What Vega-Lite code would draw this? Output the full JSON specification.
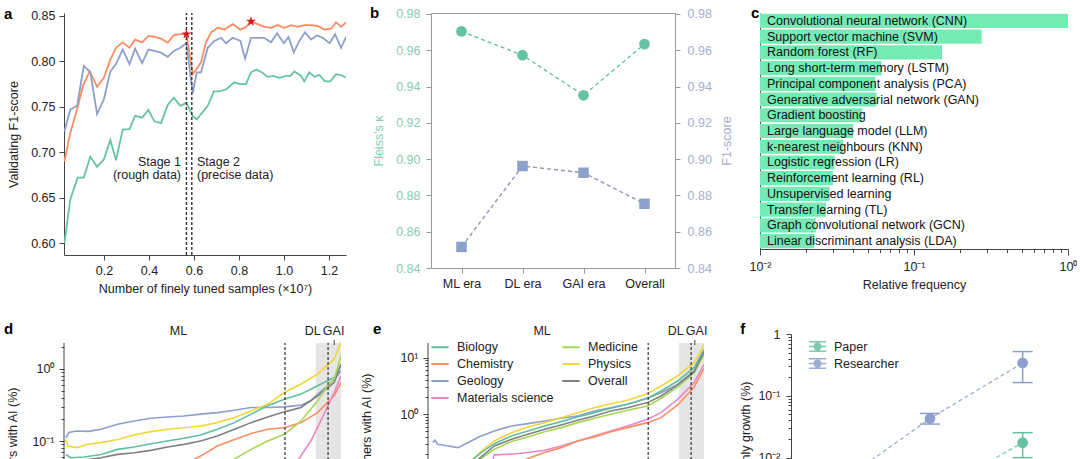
{
  "$schema": "https://vega.github.io/schema/vega-lite/v6.json",
  "padding": {"left": 3, "top": 5, "right": 0, "bottom": 0},
  "spacing": 321,
  "bounds": "flush",
  "resolve": {"scale": {"color": "independent"}, "legend": {"color": "independent"}},
  "datasets": {
    "a_runs": [
      {"model": "Model 1", "samples": 0.024, "f1": 0.600}, {"model": "Model 1", "samples": 0.050, "f1": 0.648},
      {"model": "Model 1", "samples": 0.083, "f1": 0.672}, {"model": "Model 1", "samples": 0.110, "f1": 0.672},
      {"model": "Model 1", "samples": 0.139, "f1": 0.695}, {"model": "Model 1", "samples": 0.169, "f1": 0.684},
      {"model": "Model 1", "samples": 0.199, "f1": 0.692}, {"model": "Model 1", "samples": 0.228, "f1": 0.7135},
      {"model": "Model 1", "samples": 0.253, "f1": 0.691}, {"model": "Model 1", "samples": 0.283, "f1": 0.725},
      {"model": "Model 1", "samples": 0.313, "f1": 0.7255}, {"model": "Model 1", "samples": 0.338, "f1": 0.740},
      {"model": "Model 1", "samples": 0.369, "f1": 0.738}, {"model": "Model 1", "samples": 0.397, "f1": 0.7465},
      {"model": "Model 1", "samples": 0.424, "f1": 0.734}, {"model": "Model 1", "samples": 0.453, "f1": 0.732},
      {"model": "Model 1", "samples": 0.483, "f1": 0.752}, {"model": "Model 1", "samples": 0.510, "f1": 0.760},
      {"model": "Model 1", "samples": 0.539, "f1": 0.751}, {"model": "Model 1", "samples": 0.566, "f1": 0.7545},
      {"model": "Model 1", "samples": 0.594, "f1": 0.740}, {"model": "Model 1", "samples": 0.612, "f1": 0.736},
      {"model": "Model 1", "samples": 0.631, "f1": 0.742}, {"model": "Model 1", "samples": 0.661, "f1": 0.751},
      {"model": "Model 1", "samples": 0.688, "f1": 0.767}, {"model": "Model 1", "samples": 0.712, "f1": 0.767},
      {"model": "Model 1", "samples": 0.742, "f1": 0.769}, {"model": "Model 1", "samples": 0.779, "f1": 0.777},
      {"model": "Model 1", "samples": 0.806, "f1": 0.775}, {"model": "Model 1", "samples": 0.831, "f1": 0.775},
      {"model": "Model 1", "samples": 0.853, "f1": 0.788}, {"model": "Model 1", "samples": 0.876, "f1": 0.791},
      {"model": "Model 1", "samples": 0.901, "f1": 0.788}, {"model": "Model 1", "samples": 0.927, "f1": 0.783},
      {"model": "Model 1", "samples": 0.954, "f1": 0.784}, {"model": "Model 1", "samples": 0.979, "f1": 0.782},
      {"model": "Model 1", "samples": 1.009, "f1": 0.784}, {"model": "Model 1", "samples": 1.028, "f1": 0.784},
      {"model": "Model 1", "samples": 1.046, "f1": 0.789}, {"model": "Model 1", "samples": 1.076, "f1": 0.784},
      {"model": "Model 1", "samples": 1.090, "f1": 0.778}, {"model": "Model 1", "samples": 1.112, "f1": 0.788},
      {"model": "Model 1", "samples": 1.135, "f1": 0.783}, {"model": "Model 1", "samples": 1.157, "f1": 0.785},
      {"model": "Model 1", "samples": 1.182, "f1": 0.778}, {"model": "Model 1", "samples": 1.206, "f1": 0.778},
      {"model": "Model 1", "samples": 1.231, "f1": 0.786}, {"model": "Model 1", "samples": 1.253, "f1": 0.785},
      {"model": "Model 1", "samples": 1.276, "f1": 0.782},
      {"model": "Model 2", "samples": 0.024, "f1": 0.690}, {"model": "Model 2", "samples": 0.050, "f1": 0.7215},
      {"model": "Model 2", "samples": 0.080, "f1": 0.747}, {"model": "Model 2", "samples": 0.106, "f1": 0.773},
      {"model": "Model 2", "samples": 0.136, "f1": 0.789}, {"model": "Model 2", "samples": 0.169, "f1": 0.772},
      {"model": "Model 2", "samples": 0.199, "f1": 0.782}, {"model": "Model 2", "samples": 0.228, "f1": 0.802},
      {"model": "Model 2", "samples": 0.253, "f1": 0.815}, {"model": "Model 2", "samples": 0.283, "f1": 0.821},
      {"model": "Model 2", "samples": 0.313, "f1": 0.815}, {"model": "Model 2", "samples": 0.338, "f1": 0.824},
      {"model": "Model 2", "samples": 0.369, "f1": 0.821}, {"model": "Model 2", "samples": 0.397, "f1": 0.828},
      {"model": "Model 2", "samples": 0.424, "f1": 0.827}, {"model": "Model 2", "samples": 0.453, "f1": 0.825},
      {"model": "Model 2", "samples": 0.483, "f1": 0.8206}, {"model": "Model 2", "samples": 0.510, "f1": 0.829},
      {"model": "Model 2", "samples": 0.539, "f1": 0.830}, {"model": "Model 2", "samples": 0.566, "f1": 0.830},
      {"model": "Model 2", "samples": 0.594, "f1": 0.786}, {"model": "Model 2", "samples": 0.612, "f1": 0.792},
      {"model": "Model 2", "samples": 0.631, "f1": 0.799}, {"model": "Model 2", "samples": 0.653, "f1": 0.821},
      {"model": "Model 2", "samples": 0.676, "f1": 0.832}, {"model": "Model 2", "samples": 0.705, "f1": 0.837},
      {"model": "Model 2", "samples": 0.735, "f1": 0.835}, {"model": "Model 2", "samples": 0.772, "f1": 0.841},
      {"model": "Model 2", "samples": 0.806, "f1": 0.835}, {"model": "Model 2", "samples": 0.831, "f1": 0.838},
      {"model": "Model 2", "samples": 0.853, "f1": 0.844}, {"model": "Model 2", "samples": 0.883, "f1": 0.841},
      {"model": "Model 2", "samples": 0.912, "f1": 0.838}, {"model": "Model 2", "samples": 0.942, "f1": 0.837},
      {"model": "Model 2", "samples": 0.972, "f1": 0.840}, {"model": "Model 2", "samples": 1.001, "f1": 0.837},
      {"model": "Model 2", "samples": 1.031, "f1": 0.840}, {"model": "Model 2", "samples": 1.061, "f1": 0.838},
      {"model": "Model 2", "samples": 1.090, "f1": 0.840}, {"model": "Model 2", "samples": 1.120, "f1": 0.840},
      {"model": "Model 2", "samples": 1.150, "f1": 0.839}, {"model": "Model 2", "samples": 1.179, "f1": 0.835},
      {"model": "Model 2", "samples": 1.209, "f1": 0.836}, {"model": "Model 2", "samples": 1.231, "f1": 0.843},
      {"model": "Model 2", "samples": 1.253, "f1": 0.838}, {"model": "Model 2", "samples": 1.276, "f1": 0.843},
      {"model": "Model 3", "samples": 0.024, "f1": 0.723}, {"model": "Model 3", "samples": 0.050, "f1": 0.747},
      {"model": "Model 3", "samples": 0.080, "f1": 0.751}, {"model": "Model 3", "samples": 0.110, "f1": 0.795},
      {"model": "Model 3", "samples": 0.139, "f1": 0.788}, {"model": "Model 3", "samples": 0.169, "f1": 0.742},
      {"model": "Model 3", "samples": 0.199, "f1": 0.758}, {"model": "Model 3", "samples": 0.228, "f1": 0.789},
      {"model": "Model 3", "samples": 0.253, "f1": 0.797}, {"model": "Model 3", "samples": 0.283, "f1": 0.813},
      {"model": "Model 3", "samples": 0.313, "f1": 0.797}, {"model": "Model 3", "samples": 0.338, "f1": 0.814},
      {"model": "Model 3", "samples": 0.369, "f1": 0.798}, {"model": "Model 3", "samples": 0.397, "f1": 0.813},
      {"model": "Model 3", "samples": 0.424, "f1": 0.8115}, {"model": "Model 3", "samples": 0.453, "f1": 0.8096},
      {"model": "Model 3", "samples": 0.483, "f1": 0.805}, {"model": "Model 3", "samples": 0.510, "f1": 0.8115},
      {"model": "Model 3", "samples": 0.539, "f1": 0.815}, {"model": "Model 3", "samples": 0.566, "f1": 0.820},
      {"model": "Model 3", "samples": 0.594, "f1": 0.765}, {"model": "Model 3", "samples": 0.612, "f1": 0.788},
      {"model": "Model 3", "samples": 0.631, "f1": 0.788}, {"model": "Model 3", "samples": 0.661, "f1": 0.815},
      {"model": "Model 3", "samples": 0.690, "f1": 0.8225}, {"model": "Model 3", "samples": 0.720, "f1": 0.826},
      {"model": "Model 3", "samples": 0.742, "f1": 0.820}, {"model": "Model 3", "samples": 0.772, "f1": 0.826},
      {"model": "Model 3", "samples": 0.806, "f1": 0.8225}, {"model": "Model 3", "samples": 0.827, "f1": 0.803},
      {"model": "Model 3", "samples": 0.853, "f1": 0.826}, {"model": "Model 3", "samples": 0.883, "f1": 0.826},
      {"model": "Model 3", "samples": 0.912, "f1": 0.826}, {"model": "Model 3", "samples": 0.942, "f1": 0.821},
      {"model": "Model 3", "samples": 0.969, "f1": 0.831}, {"model": "Model 3", "samples": 0.999, "f1": 0.820},
      {"model": "Model 3", "samples": 1.020, "f1": 0.827}, {"model": "Model 3", "samples": 1.043, "f1": 0.810},
      {"model": "Model 3", "samples": 1.068, "f1": 0.8225}, {"model": "Model 3", "samples": 1.093, "f1": 0.832},
      {"model": "Model 3", "samples": 1.120, "f1": 0.824}, {"model": "Model 3", "samples": 1.146, "f1": 0.8285},
      {"model": "Model 3", "samples": 1.172, "f1": 0.826}, {"model": "Model 3", "samples": 1.202, "f1": 0.820},
      {"model": "Model 3", "samples": 1.227, "f1": 0.830}, {"model": "Model 3", "samples": 1.253, "f1": 0.815},
      {"model": "Model 3", "samples": 1.279, "f1": 0.8285}
    ],
    "b_points": [
      {"era": "ML era", "kappa": 0.9704, "f1": 0.8516},
      {"era": "DL era", "kappa": 0.9573, "f1": 0.8962},
      {"era": "GAI era", "kappa": 0.9352, "f1": 0.8925},
      {"era": "Overall", "kappa": 0.9634, "f1": 0.8754}
    ],
    "c_methods": [
      {"method": "Convolutional neural network (CNN)", "freq": 1.0},
      {"method": "Support vector machine (SVM)", "freq": 0.275},
      {"method": "Random forest (RF)", "freq": 0.152},
      {"method": "Long short-term memory (LSTM)", "freq": 0.0615},
      {"method": "Principal component analysis (PCA)", "freq": 0.0562},
      {"method": "Generative adversarial network (GAN)", "freq": 0.0571},
      {"method": "Gradient boosting", "freq": 0.0461},
      {"method": "Large language model (LLM)", "freq": 0.0403},
      {"method": "k-nearest neighbours (KNN)", "freq": 0.0346},
      {"method": "Logistic regression (LR)", "freq": 0.0305},
      {"method": "Reinforcement learning (RL)", "freq": 0.0298},
      {"method": "Unsupervised learning", "freq": 0.0283},
      {"method": "Transfer learning (TL)", "freq": 0.0268},
      {"method": "Graph convolutional network (GCN)", "freq": 0.0230},
      {"method": "Linear discriminant analysis (LDA)", "freq": 0.0225}
    ],
    "d_papers": [
      {"series": "Geology", "year": 1980.3, "share": 0.111}, {"series": "Geology", "year": 1980.8, "share": 0.131},
      {"series": "Geology", "year": 1982.0, "share": 0.138}, {"series": "Geology", "year": 1984.0, "share": 0.136},
      {"series": "Geology", "year": 1986.0, "share": 0.146}, {"series": "Geology", "year": 1988.7, "share": 0.171},
      {"series": "Geology", "year": 1991.4, "share": 0.190}, {"series": "Geology", "year": 1994.1, "share": 0.207},
      {"series": "Geology", "year": 1996.8, "share": 0.216}, {"series": "Geology", "year": 1999.5, "share": 0.223},
      {"series": "Geology", "year": 2002.2, "share": 0.236}, {"series": "Geology", "year": 2004.9, "share": 0.248},
      {"series": "Geology", "year": 2007.7, "share": 0.268}, {"series": "Geology", "year": 2010.4, "share": 0.292},
      {"series": "Geology", "year": 2013.1, "share": 0.292}, {"series": "Geology", "year": 2015.8, "share": 0.298},
      {"series": "Geology", "year": 2018.5, "share": 0.315}, {"series": "Geology", "year": 2020.1, "share": 0.361},
      {"series": "Geology", "year": 2021.2, "share": 0.448}, {"series": "Geology", "year": 2022.8, "share": 0.585},
      {"series": "Geology", "year": 2023.9, "share": 0.725}, {"series": "Geology", "year": 2025.0, "share": 0.948},
      {"series": "Physics", "year": 1980.3, "share": 0.105}, {"series": "Physics", "year": 1980.6, "share": 0.085},
      {"series": "Physics", "year": 1982.2, "share": 0.081}, {"series": "Physics", "year": 1983.8, "share": 0.090},
      {"series": "Physics", "year": 1986.0, "share": 0.095}, {"series": "Physics", "year": 1988.7, "share": 0.105},
      {"series": "Physics", "year": 1991.4, "share": 0.121}, {"series": "Physics", "year": 1994.1, "share": 0.135},
      {"series": "Physics", "year": 1996.8, "share": 0.146}, {"series": "Physics", "year": 1999.5, "share": 0.153},
      {"series": "Physics", "year": 2002.2, "share": 0.162}, {"series": "Physics", "year": 2004.9, "share": 0.180},
      {"series": "Physics", "year": 2007.7, "share": 0.212}, {"series": "Physics", "year": 2010.4, "share": 0.262},
      {"series": "Physics", "year": 2013.1, "share": 0.325}, {"series": "Physics", "year": 2015.8, "share": 0.472},
      {"series": "Physics", "year": 2018.5, "share": 0.618}, {"series": "Physics", "year": 2021.2, "share": 0.851},
      {"series": "Physics", "year": 2023.9, "share": 1.38}, {"series": "Physics", "year": 2025.0, "share": 2.36},
      {"series": "Biology", "year": 1980.3, "share": 0.065}, {"series": "Biology", "year": 1981.1, "share": 0.0585},
      {"series": "Biology", "year": 1983.3, "share": 0.060}, {"series": "Biology", "year": 1986.0, "share": 0.065},
      {"series": "Biology", "year": 1988.7, "share": 0.0765}, {"series": "Biology", "year": 1991.4, "share": 0.0824},
      {"series": "Biology", "year": 1994.1, "share": 0.0918}, {"series": "Biology", "year": 1996.8, "share": 0.100},
      {"series": "Biology", "year": 1999.5, "share": 0.109}, {"series": "Biology", "year": 2002.2, "share": 0.121},
      {"series": "Biology", "year": 2004.9, "share": 0.146}, {"series": "Biology", "year": 2007.7, "share": 0.180},
      {"series": "Biology", "year": 2010.4, "share": 0.236}, {"series": "Biology", "year": 2013.1, "share": 0.308},
      {"series": "Biology", "year": 2015.8, "share": 0.381}, {"series": "Biology", "year": 2018.5, "share": 0.448},
      {"series": "Biology", "year": 2021.2, "share": 0.585}, {"series": "Biology", "year": 2023.9, "share": 0.765},
      {"series": "Biology", "year": 2025.0, "share": 1.11},
      {"series": "Overall", "year": 1980.3, "share": 0.047}, {"series": "Overall", "year": 1983.3, "share": 0.0543},
      {"series": "Overall", "year": 1986.0, "share": 0.0585}, {"series": "Overall", "year": 1988.7, "share": 0.0652},
      {"series": "Overall", "year": 1991.4, "share": 0.0687}, {"series": "Overall", "year": 1994.1, "share": 0.0741},
      {"series": "Overall", "year": 1996.8, "share": 0.0824}, {"series": "Overall", "year": 1999.5, "share": 0.0898},
      {"series": "Overall", "year": 2002.2, "share": 0.100}, {"series": "Overall", "year": 2004.9, "share": 0.117},
      {"series": "Overall", "year": 2007.7, "share": 0.146}, {"series": "Overall", "year": 2010.4, "share": 0.180},
      {"series": "Overall", "year": 2013.1, "share": 0.216}, {"series": "Overall", "year": 2015.8, "share": 0.254},
      {"series": "Overall", "year": 2018.5, "share": 0.292}, {"series": "Overall", "year": 2021.2, "share": 0.425},
      {"series": "Overall", "year": 2023.9, "share": 0.652}, {"series": "Overall", "year": 2025.0, "share": 1.17},
      {"series": "Chemistry", "year": 1990.0, "share": 0.018}, {"series": "Chemistry", "year": 1994.1, "share": 0.0248},
      {"series": "Chemistry", "year": 1996.8, "share": 0.0343}, {"series": "Chemistry", "year": 2000.6, "share": 0.0526},
      {"series": "Chemistry", "year": 2002.2, "share": 0.0618}, {"series": "Chemistry", "year": 2004.9, "share": 0.0851},
      {"series": "Chemistry", "year": 2007.7, "share": 0.105}, {"series": "Chemistry", "year": 2010.4, "share": 0.127},
      {"series": "Chemistry", "year": 2013.1, "share": 0.146}, {"series": "Chemistry", "year": 2015.8, "share": 0.153},
      {"series": "Chemistry", "year": 2018.5, "share": 0.180}, {"series": "Chemistry", "year": 2021.2, "share": 0.248},
      {"series": "Chemistry", "year": 2022.8, "share": 0.343}, {"series": "Chemistry", "year": 2023.9, "share": 0.425},
      {"series": "Chemistry", "year": 2025.0, "share": 0.652},
      {"series": "Medicine", "year": 1995.0, "share": 0.015}, {"series": "Medicine", "year": 2002.2, "share": 0.0248},
      {"series": "Medicine", "year": 2007.1, "share": 0.0526}, {"series": "Medicine", "year": 2010.4, "share": 0.0765},
      {"series": "Medicine", "year": 2013.1, "share": 0.100}, {"series": "Medicine", "year": 2015.8, "share": 0.124},
      {"series": "Medicine", "year": 2018.5, "share": 0.190}, {"series": "Medicine", "year": 2021.2, "share": 0.361},
      {"series": "Medicine", "year": 2022.8, "share": 0.585}, {"series": "Medicine", "year": 2023.9, "share": 0.725},
      {"series": "Medicine", "year": 2025.0, "share": 1.53},
      {"series": "Materials science", "year": 2005.0, "share": 0.008}, {"series": "Materials science", "year": 2013.1, "share": 0.0162},
      {"series": "Materials science", "year": 2017.9, "share": 0.0526}, {"series": "Materials science", "year": 2020.1, "share": 0.100},
      {"series": "Materials science", "year": 2021.7, "share": 0.190}, {"series": "Materials science", "year": 2023.4, "share": 0.381},
      {"series": "Materials science", "year": 2023.9, "share": 0.472}, {"series": "Materials science", "year": 2025.0, "share": 0.807}
    ],
    "e_researchers": [
      {"series": "Geology", "year": 1980.8, "share": 0.316}, {"series": "Geology", "year": 1981.1, "share": 0.350},
      {"series": "Geology", "year": 1981.6, "share": 0.296}, {"series": "Geology", "year": 1983.3, "share": 0.276},
      {"series": "Geology", "year": 1984.9, "share": 0.258}, {"series": "Geology", "year": 1986.0, "share": 0.296},
      {"series": "Geology", "year": 1988.1, "share": 0.388}, {"series": "Geology", "year": 1990.8, "share": 0.508},
      {"series": "Geology", "year": 1993.6, "share": 0.622}, {"series": "Geology", "year": 1996.3, "share": 0.684},
      {"series": "Geology", "year": 1999.0, "share": 0.762}, {"series": "Geology", "year": 2001.7, "share": 0.850},
      {"series": "Geology", "year": 2004.4, "share": 0.935}, {"series": "Geology", "year": 2007.1, "share": 1.146},
      {"series": "Geology", "year": 2009.8, "share": 1.31}, {"series": "Geology", "year": 2012.5, "share": 1.50},
      {"series": "Geology", "year": 2015.8, "share": 1.92}, {"series": "Geology", "year": 2018.0, "share": 2.41},
      {"series": "Geology", "year": 2020.7, "share": 3.38}, {"series": "Geology", "year": 2023.4, "share": 5.82},
      {"series": "Geology", "year": 2025.0, "share": 11.5},
      {"series": "Physics", "year": 1985.0, "share": 0.100}, {"series": "Physics", "year": 1987.0, "share": 0.150},
      {"series": "Physics", "year": 1988.7, "share": 0.225}, {"series": "Physics", "year": 1990.8, "share": 0.338},
      {"series": "Physics", "year": 1993.6, "share": 0.474}, {"series": "Physics", "year": 1996.3, "share": 0.597},
      {"series": "Physics", "year": 1999.0, "share": 0.713}, {"series": "Physics", "year": 2001.7, "share": 0.873},
      {"series": "Physics", "year": 2004.4, "share": 1.07}, {"series": "Physics", "year": 2007.1, "share": 1.31},
      {"series": "Physics", "year": 2009.8, "share": 1.54}, {"series": "Physics", "year": 2012.5, "share": 1.77},
      {"series": "Physics", "year": 2015.8, "share": 2.32}, {"series": "Physics", "year": 2018.0, "share": 3.16},
      {"series": "Physics", "year": 2020.7, "share": 4.75}, {"series": "Physics", "year": 2023.4, "share": 8.16},
      {"series": "Physics", "year": 2025.0, "share": 17.2},
      {"series": "Biology", "year": 1985.0, "share": 0.100}, {"series": "Biology", "year": 1987.0, "share": 0.150},
      {"series": "Biology", "year": 1988.7, "share": 0.211}, {"series": "Biology", "year": 1990.8, "share": 0.303},
      {"series": "Biology", "year": 1993.6, "share": 0.415}, {"series": "Biology", "year": 1996.3, "share": 0.508},
      {"series": "Biology", "year": 1999.0, "share": 0.622}, {"series": "Biology", "year": 2001.7, "share": 0.743},
      {"series": "Biology", "year": 2004.4, "share": 0.897}, {"series": "Biology", "year": 2007.1, "share": 1.07},
      {"series": "Biology", "year": 2009.8, "share": 1.28}, {"series": "Biology", "year": 2012.5, "share": 1.50},
      {"series": "Biology", "year": 2015.8, "share": 1.92}, {"series": "Biology", "year": 2018.0, "share": 2.58},
      {"series": "Biology", "year": 2020.7, "share": 3.87}, {"series": "Biology", "year": 2023.4, "share": 6.67},
      {"series": "Biology", "year": 2025.0, "share": 14.0},
      {"series": "Medicine", "year": 1986.0, "share": 0.100}, {"series": "Medicine", "year": 1988.1, "share": 0.150},
      {"series": "Medicine", "year": 1990.8, "share": 0.241}, {"series": "Medicine", "year": 1993.6, "share": 0.330},
      {"series": "Medicine", "year": 1996.3, "share": 0.398}, {"series": "Medicine", "year": 1999.0, "share": 0.494},
      {"series": "Medicine", "year": 2001.7, "share": 0.582}, {"series": "Medicine", "year": 2004.4, "share": 0.713},
      {"series": "Medicine", "year": 2007.1, "share": 0.850}, {"series": "Medicine", "year": 2009.8, "share": 1.00},
      {"series": "Medicine", "year": 2012.5, "share": 1.18}, {"series": "Medicine", "year": 2015.8, "share": 1.40},
      {"series": "Medicine", "year": 2018.0, "share": 1.92}, {"series": "Medicine", "year": 2020.7, "share": 3.03},
      {"series": "Medicine", "year": 2023.4, "share": 5.44}, {"series": "Medicine", "year": 2025.0, "share": 11.5},
      {"series": "Overall", "year": 1986.0, "share": 0.100}, {"series": "Overall", "year": 1987.9, "share": 0.150},
      {"series": "Overall", "year": 1990.8, "share": 0.276}, {"series": "Overall", "year": 1993.6, "share": 0.362},
      {"series": "Overall", "year": 1996.3, "share": 0.443}, {"series": "Overall", "year": 1999.0, "share": 0.543},
      {"series": "Overall", "year": 2001.7, "share": 0.648}, {"series": "Overall", "year": 2004.4, "share": 0.784},
      {"series": "Overall", "year": 2007.1, "share": 0.935}, {"series": "Overall", "year": 2009.8, "share": 1.146},
      {"series": "Overall", "year": 2012.5, "share": 1.31}, {"series": "Overall", "year": 2015.8, "share": 1.61},
      {"series": "Overall", "year": 2018.0, "share": 2.11}, {"series": "Overall", "year": 2020.7, "share": 3.30},
      {"series": "Overall", "year": 2023.4, "share": 5.66}, {"series": "Overall", "year": 2025.0, "share": 12.8},
      {"series": "Materials science", "year": 1990.3, "share": 0.120}, {"series": "Materials science", "year": 1990.8, "share": 0.192},
      {"series": "Materials science", "year": 1993.6, "share": 0.197}, {"series": "Materials science", "year": 1996.3, "share": 0.211},
      {"series": "Materials science", "year": 1999.0, "share": 0.232}, {"series": "Materials science", "year": 2001.7, "share": 0.276},
      {"series": "Materials science", "year": 2004.4, "share": 0.338}, {"series": "Materials science", "year": 2007.1, "share": 0.415},
      {"series": "Materials science", "year": 2009.8, "share": 0.508}, {"series": "Materials science", "year": 2012.5, "share": 0.622},
      {"series": "Materials science", "year": 2015.8, "share": 0.816}, {"series": "Materials science", "year": 2018.0, "share": 1.07},
      {"series": "Materials science", "year": 2020.7, "share": 1.84}, {"series": "Materials science", "year": 2023.4, "share": 3.62},
      {"series": "Materials science", "year": 2025.0, "share": 7.63},
      {"series": "Chemistry", "year": 1993.0, "share": 0.100}, {"series": "Chemistry", "year": 1995.2, "share": 0.150},
      {"series": "Chemistry", "year": 1999.0, "share": 0.211}, {"series": "Chemistry", "year": 2001.7, "share": 0.258},
      {"series": "Chemistry", "year": 2004.4, "share": 0.338}, {"series": "Chemistry", "year": 2007.1, "share": 0.398},
      {"series": "Chemistry", "year": 2009.8, "share": 0.494}, {"series": "Chemistry", "year": 2012.5, "share": 0.582},
      {"series": "Chemistry", "year": 2015.8, "share": 0.713}, {"series": "Chemistry", "year": 2018.0, "share": 0.873},
      {"series": "Chemistry", "year": 2020.7, "share": 1.46}, {"series": "Chemistry", "year": 2023.4, "share": 3.03},
      {"series": "Chemistry", "year": 2025.0, "share": 6.49}
    ],
    "f_growth": [
      {"kind": "Researcher", "era": "ML era", "growth": 0.0037, "lo": 0.0030, "hi": 0.0045},
      {"kind": "Researcher", "era": "DL era", "growth": 0.043, "lo": 0.035, "hi": 0.052},
      {"kind": "Researcher", "era": "GAI era", "growth": 0.34, "lo": 0.164, "hi": 0.52},
      {"kind": "Paper", "era": "ML era", "growth": 0.0007, "lo": 0.0005, "hi": 0.0009},
      {"kind": "Paper", "era": "DL era", "growth": 0.0025, "lo": 0.0019, "hi": 0.0031},
      {"kind": "Paper", "era": "GAI era", "growth": 0.0175, "lo": 0.0100, "hi": 0.0254}
    ]
  },
  "vconcat": [
    {
      "spacing": 85,
      "bounds": "flush",
      "resolve": {"scale": {"color": "independent"}, "legend": {"color": "independent"}},
      "hconcat": [
        {
          "width": 282,
          "height": 242,
          "layer": [
            {
              "data": {"name": "a_runs"},
              "mark": {"type": "line", "strokeWidth": 1.8, "clip": true},
              "encoding": {
                "x": {
                  "field": "samples", "type": "quantitative",
                  "scale": {"domain": [0.022, 1.2753], "nice": false, "zero": false},
                  "axis": {"values": [0.2, 0.4, 0.6, 0.8, 1.0, 1.2], "format": ".1f", "labelFlush": false, "labelPadding": 4, "titlePadding": 6, "title": "Number of finely tuned samples (×10⁷)"}
                },
                "y": {
                  "field": "f1", "type": "quantitative",
                  "scale": {"domain": [0.5868, 0.8533], "nice": false, "zero": false},
                  "axis": {"values": [0.6, 0.65, 0.7, 0.75, 0.8, 0.85], "format": ".2f", "labelPadding": 4, "titlePadding": 10, "title": "Validating F1-score"}
                },
                "color": {"field": "model", "type": "nominal", "scale": {"domain": ["Model 1", "Model 2", "Model 3"], "range": ["#66c2a5", "#fc8d62", "#8da0cb"]}, "legend": null}
              }
            },
            {
              "data": {"values": [{"samples": 0.566, "f1": 0.5868, "top": 0.8533}, {"samples": 0.590, "f1": 0.5868, "top": 0.8533}]},
              "mark": {"type": "rule", "strokeDash": [3, 2], "color": "#333333", "strokeWidth": 1.4},
              "encoding": {"x": {"field": "samples", "type": "quantitative"}, "y": {"field": "f1", "type": "quantitative"}, "y2": {"field": "top"}}
            },
            {
              "data": {"values": [{"samples": 0.566, "f1": 0.830}, {"samples": 0.853, "f1": 0.844}]},
              "mark": {"type": "point", "filled": true, "opacity": 1, "size": 110, "color": "#d7191c", "shape": "M0,-1L0.2245,-0.309L0.9511,-0.309L0.3633,0.118L0.5878,0.809L0,0.382L-0.5878,0.809L-0.3633,0.118L-0.9511,-0.309L-0.2245,-0.309Z"},
              "encoding": {"x": {"field": "samples", "type": "quantitative"}, "y": {"field": "f1", "type": "quantitative"}}
            },
            {
              "data": {"values": [{"samples": 0.542, "f1": 0.6895, "note": "Stage 1"}, {"samples": 0.542, "f1": 0.6745, "note": "(rough data)"}]},
              "mark": {"type": "text", "align": "right", "baseline": "middle", "fontSize": 12.5},
              "encoding": {"x": {"field": "samples", "type": "quantitative"}, "y": {"field": "f1", "type": "quantitative"}, "text": {"field": "note", "type": "nominal"}}
            },
            {
              "data": {"values": [{"samples": 0.613, "f1": 0.6895, "note": "Stage 2"}, {"samples": 0.613, "f1": 0.6745, "note": "(precise data)"}]},
              "mark": {"type": "text", "align": "left", "baseline": "middle", "fontSize": 12.5},
              "encoding": {"x": {"field": "samples", "type": "quantitative"}, "y": {"field": "f1", "type": "quantitative"}, "text": {"field": "note", "type": "nominal"}}
            },
            {
              "data": {"values": [{"panel": "a", "samples": -0.2447, "f1": 0.8467}, {"panel": "b", "samples": 1.382, "f1": 0.8478}, {"panel": "c", "samples": 3.075, "f1": 0.8478}]},
              "mark": {"type": "text", "align": "left", "baseline": "alphabetic", "fontSize": 15, "fontWeight": "bold", "color": "#000000"},
              "encoding": {"x": {"field": "samples", "type": "quantitative"}, "y": {"field": "f1", "type": "quantitative"}, "text": {"field": "panel", "type": "nominal"}}
            }
          ]
        },
        {
          "width": 244,
          "height": 255,
          "view": {"stroke": "#999999", "strokeWidth": 1},
          "data": {"name": "b_points"},
          "encoding": {
            "x": {
              "field": "era", "type": "ordinal", "sort": ["ML era", "DL era", "GAI era", "Overall"],
              "scale": {"type": "point", "padding": 0.5},
              "axis": {"title": null, "labelAngle": 0, "domain": false, "tickColor": "#999999", "labelPadding": 4}
            }
          },
          "layer": [
            {
              "layer": [
                {
                  "mark": {"type": "line", "strokeDash": [4, 3], "strokeWidth": 1.4, "color": "#66c2a5"},
                  "encoding": {
                    "y": {
                      "field": "kappa", "type": "quantitative",
                      "scale": {"domain": [0.84, 0.98055], "nice": false, "zero": false},
                      "axis": {"values": [0.84, 0.86, 0.88, 0.9, 0.92, 0.94, 0.96, 0.98], "tickCount": 8, "format": ".2f", "labelOverlap": false, "domain": false, "tickColor": "#999999", "labelColor": "#86cdb2", "titleColor": "#86cdb2", "labelPadding": 6, "titlePadding": 10, "title": "Fleiss's κ"}
                    }
                  }
                },
                {
                  "mark": {"type": "point", "filled": true, "opacity": 1, "size": 115, "color": "#66c2a5"},
                  "encoding": {
                    "y": {
                      "field": "kappa", "type": "quantitative",
                      "axis": {"values": [0.84, 0.86, 0.88, 0.9, 0.92, 0.94, 0.96, 0.98], "tickCount": 8, "format": ".2f", "labelOverlap": false, "domain": false, "tickColor": "#999999", "labelColor": "#86cdb2", "titleColor": "#86cdb2", "labelPadding": 6, "titlePadding": 10, "title": "Fleiss's κ"}
                    }
                  }
                }
              ]
            },
            {
              "layer": [
                {
                  "mark": {"type": "line", "strokeDash": [4, 3], "strokeWidth": 1.4, "color": "#9095b9"},
                  "encoding": {
                    "y": {
                      "field": "f1", "type": "quantitative",
                      "scale": {"domain": [0.84, 0.98055], "nice": false, "zero": false},
                      "axis": {"orient": "right", "values": [0.84, 0.86, 0.88, 0.9, 0.92, 0.94, 0.96, 0.98], "tickCount": 8, "format": ".2f", "labelOverlap": false, "domain": false, "tickColor": "#999999", "labelColor": "#a9adcb", "titleColor": "#a9adcb", "labelPadding": 7, "titlePadding": 9, "titleAngle": 270, "titleBaseline": "top", "title": "F1-score"}
                    }
                  }
                },
                {
                  "mark": {"type": "point", "shape": "square", "filled": true, "opacity": 1, "size": 110, "color": "#8da0cb"},
                  "encoding": {
                    "y": {
                      "field": "f1", "type": "quantitative",
                      "axis": {"orient": "right", "values": [0.84, 0.86, 0.88, 0.9, 0.92, 0.94, 0.96, 0.98], "tickCount": 8, "format": ".2f", "labelOverlap": false, "domain": false, "tickColor": "#999999", "labelColor": "#a9adcb", "titleColor": "#a9adcb", "labelPadding": 7, "titlePadding": 9, "titleAngle": 270, "titleBaseline": "top", "title": "F1-score"}
                    }
                  }
                }
              ]
            }
          ],
          "resolve": {"scale": {"y": "independent"}}
        },
        {
          "width": 308,
          "height": 236,
          "data": {"name": "c_methods"},
          "encoding": {
            "y": {
              "field": "method", "type": "nominal",
              "sort": ["Convolutional neural network (CNN)", "Support vector machine (SVM)", "Random forest (RF)", "Long short-term memory (LSTM)", "Principal component analysis (PCA)", "Generative adversarial network (GAN)", "Gradient boosting", "Large language model (LLM)", "k-nearest neighbours (KNN)", "Logistic regression (LR)", "Reinforcement learning (RL)", "Unsupervised learning", "Transfer learning (TL)", "Graph convolutional network (GCN)", "Linear discriminant analysis (LDA)"],
              "scale": {"paddingInner": 0.1, "paddingOuter": 0.05},
              "axis": {"title": null, "labels": false, "ticks": false}
            }
          },
          "layer": [
            {
              "mark": {"type": "bar", "color": "#74ebb4"},
              "encoding": {
                "x": {
                  "field": "freq", "type": "quantitative",
                  "scale": {"type": "log", "domain": [0.01, 1], "nice": false},
                  "axis": {
                    "values": [0.01, 0.02, 0.03, 0.04, 0.05, 0.06, 0.07, 0.08, 0.09, 0.1, 0.2, 0.3, 0.4, 0.5, 0.6, 0.7, 0.8, 0.9, 1],
                    "labelExpr": "datum.value == 0.01 ? '10⁻²' : datum.value == 0.1 ? '10⁻¹' : datum.value == 1 ? '10⁰' : ''",
                    "tickSize": {"condition": {"test": "datum.value == 0.01 || datum.value == 0.1 || datum.value == 1", "value": 6}, "value": 3.5},
                    "labelOverlap": false, "labelFlush": false, "labelPadding": 5, "titlePadding": 6,
                    "title": "Relative frequency"
                  }
                },
                "x2": {"datum": 0.01}
              }
            },
            {
              "mark": {"type": "text", "align": "left", "baseline": "middle", "dx": 7, "fontSize": 12.5, "color": "#111111"},
              "encoding": {"x": {"datum": 0.01}, "text": {"field": "method", "type": "nominal"}}
            }
          ]
        }
      ]
    },
    {
      "spacing": 87,
      "bounds": "flush",
      "resolve": {"scale": {"color": "independent"}, "legend": {"color": "independent"}},
      "hconcat": [
        {
          "width": 277,
          "height": 126,
          "layer": [
            {
              "data": {"values": [{"start": 2020.9, "end": 2025, "low": 0.0545, "high": 2.3}]},
              "mark": {"type": "rect", "color": "#e5e5e5"},
              "encoding": {"x": {"field": "start", "type": "quantitative", "axis": null}, "x2": {"field": "end"}, "y": {"field": "low", "type": "quantitative"}, "y2": {"field": "high"}}
            },
            {
              "data": {"name": "d_papers"},
              "mark": {"type": "line", "strokeWidth": 1.6, "clip": true},
              "encoding": {
                "x": {"field": "year", "type": "quantitative", "scale": {"domain": [1980, 2025], "nice": false, "zero": false}, "axis": null},
                "y": {
                  "field": "share", "type": "quantitative",
                  "scale": {"type": "log", "domain": [0.0545, 3.06], "nice": false},
                  "axis": {
                    "values": [0.06, 0.07, 0.08, 0.09, 0.1, 0.2, 0.3, 0.4, 0.5, 0.6, 0.7, 0.8, 0.9, 1, 2],
                    "labelExpr": "datum.value == 1 ? '10⁰' : datum.value == 0.1 ? '10⁻¹' : ''",
                    "tickSize": {"condition": {"test": "datum.value == 1 || datum.value == 0.1", "value": 5}, "value": 3},
                    "domain": false, "labelOverlap": false, "labelFlush": false, "labelPadding": 5,
                    "title": "Papers with AI (%)", "titleX": -45, "titleY": 53, "titleAlign": "right", "titleBaseline": "bottom", "titleAngle": 270
                  }
                },
                "color": {
                  "field": "series", "type": "nominal",
                  "scale": {"domain": ["Biology", "Chemistry", "Geology", "Materials science", "Medicine", "Physics", "Overall"], "range": ["#5fbf9f", "#fc8d62", "#8d9fcb", "#e78ac3", "#a6d854", "#f2d63a", "#808080"]},
                  "legend": null
                }
              }
            },
            {
              "data": {"values": [{"year": 2015.9, "low": 0.0545, "high": 2.3}, {"year": 2022.9, "low": 0.0545, "high": 2.3}]},
              "mark": {"type": "rule", "strokeDash": [3, 2], "color": "#333333", "strokeWidth": 1.2},
              "encoding": {"x": {"field": "year", "type": "quantitative", "axis": null}, "y": {"field": "low", "type": "quantitative"}, "y2": {"field": "high"}}
            },
            {
              "data": {"values": [{"year": 1980, "low": 0.0545, "high": 2.3}, {"year": 2023.9, "low": 2.15, "high": 2.53}]},
              "mark": {"type": "rule", "color": "#444444", "strokeWidth": 1},
              "encoding": {"x": {"field": "year", "type": "quantitative", "axis": null}, "y": {"field": "low", "type": "quantitative"}, "y2": {"field": "high"}}
            },
            {
              "data": {"values": [{"label": "ML", "year": 1998.6, "level": 3.37}, {"label": "DL", "year": 2020.4, "level": 3.37}, {"label": "GAI", "year": 2023.8, "level": 3.37}]},
              "mark": {"type": "text", "align": "center", "baseline": "middle", "fontSize": 12.5},
              "encoding": {"x": {"field": "year", "type": "quantitative", "axis": null}, "y": {"field": "level", "type": "quantitative"}, "text": {"field": "label", "type": "nominal"}}
            },
            {
              "data": {"values": [{"label": "d", "year": 1970.25, "level": 3.06}]},
              "mark": {"type": "text", "align": "left", "baseline": "alphabetic", "fontSize": 15, "fontWeight": "bold", "color": "#000000"},
              "encoding": {"x": {"field": "year", "type": "quantitative", "axis": null}, "y": {"field": "level", "type": "quantitative"}, "text": {"field": "label", "type": "nominal"}}
            }
          ]
        },
        {
          "width": 276,
          "height": 126,
          "layer": [
            {
              "data": {"values": [{"start": 2020.9, "end": 2025, "low": 0.156, "high": 18.2}]},
              "mark": {"type": "rect", "color": "#e5e5e5"},
              "encoding": {"x": {"field": "start", "type": "quantitative", "axis": null}, "x2": {"field": "end"}, "y": {"field": "low", "type": "quantitative"}, "y2": {"field": "high"}}
            },
            {
              "data": {"name": "e_researchers"},
              "mark": {"type": "line", "strokeWidth": 1.6, "clip": true},
              "encoding": {
                "x": {"field": "year", "type": "quantitative", "scale": {"domain": [1980, 2025], "nice": false, "zero": false}, "axis": null},
                "y": {
                  "field": "share", "type": "quantitative",
                  "scale": {"type": "log", "domain": [0.156, 26.2], "nice": false},
                  "axis": {
                    "values": [0.2, 0.3, 0.4, 0.5, 0.6, 0.7, 0.8, 0.9, 1, 2, 3, 4, 5, 6, 7, 8, 9, 10],
                    "labelExpr": "datum.value == 10 ? '10¹' : datum.value == 1 ? '10⁰' : ''",
                    "tickSize": {"condition": {"test": "datum.value == 10 || datum.value == 1", "value": 5}, "value": 3},
                    "domain": false, "labelOverlap": false, "labelFlush": false, "labelPadding": 5,
                    "title": "Researchers with AI (%)", "titleX": -55, "titleY": 39, "titleAlign": "right", "titleBaseline": "bottom", "titleAngle": 270
                  }
                },
                "color": {
                  "field": "series", "type": "nominal",
                  "scale": {"domain": ["Biology", "Chemistry", "Geology", "Materials science", "Medicine", "Physics", "Overall"], "range": ["#5fbf9f", "#fc8d62", "#8d9fcb", "#e78ac3", "#a6d854", "#f2d63a", "#808080"]},
                  "legend": {
                    "title": null, "orient": "none", "legendX": 2, "legendY": 3, "columns": 2,
                    "symbolType": "stroke", "symbolSize": 300, "symbolStrokeWidth": 2,
                    "labelFontSize": 12.5, "labelOffset": 7, "rowPadding": 0, "columnPadding": 4
                  }
                }
              }
            },
            {
              "data": {"values": [{"year": 2015.9, "low": 0.156, "high": 18.2}, {"year": 2022.9, "low": 0.156, "high": 18.2}]},
              "mark": {"type": "rule", "strokeDash": [3, 2], "color": "#333333", "strokeWidth": 1.2},
              "encoding": {"x": {"field": "year", "type": "quantitative", "axis": null}, "y": {"field": "low", "type": "quantitative"}, "y2": {"field": "high"}}
            },
            {
              "data": {"values": [{"year": 1980, "low": 0.156, "high": 18.2}, {"year": 2023.5, "low": 16.8, "high": 20.5}]},
              "mark": {"type": "rule", "color": "#444444", "strokeWidth": 1},
              "encoding": {"x": {"field": "year", "type": "quantitative", "axis": null}, "y": {"field": "low", "type": "quantitative"}, "y2": {"field": "high"}}
            },
            {
              "data": {"values": [{"label": "ML", "year": 1998.6, "level": 29.7}, {"label": "DL", "year": 2020.4, "level": 29.7}, {"label": "GAI", "year": 2023.8, "level": 29.7}]},
              "mark": {"type": "text", "align": "center", "baseline": "middle", "fontSize": 12.5},
              "encoding": {"x": {"field": "year", "type": "quantitative", "axis": null}, "y": {"field": "level", "type": "quantitative"}, "text": {"field": "label", "type": "nominal"}}
            },
            {
              "data": {"values": [{"label": "e", "year": 1971.03, "level": 26.2}, {"label": "f", "year": 2030.9, "level": 26.2}]},
              "mark": {"type": "text", "align": "left", "baseline": "alphabetic", "fontSize": 15, "fontWeight": "bold", "color": "#000000"},
              "encoding": {"x": {"field": "year", "type": "quantitative", "axis": null}, "y": {"field": "level", "type": "quantitative"}, "text": {"field": "label", "type": "nominal"}}
            }
          ]
        },
        {
          "width": 278,
          "height": 126,
          "data": {"name": "f_growth"},
          "encoding": {
            "x": {"field": "era", "type": "ordinal", "sort": ["ML era", "DL era", "GAI era"], "scale": {"type": "point", "padding": 0.5}, "axis": null},
            "color": {
              "field": "kind", "type": "nominal",
              "scale": {"domain": ["Paper", "Researcher"], "range": ["#66c2a5", "#8da0cb"]},
              "legend": {
                "title": null, "orient": "none", "legendX": 17, "legendY": 3,
                "symbolType": "M-1,-0.55H1M-1,0.55H1M0,-0.55V0.55M-1,0H1M0.4,0A0.4,0.4,0,1,1,-0.4,0A0.4,0.4,0,1,1,0.4,0Z",
                "symbolSize": 300, "symbolStrokeWidth": 1.3,
                "labelFontSize": 12.5, "labelOffset": 7, "rowPadding": 0
              }
            }
          },
          "layer": [
            {
              "mark": {"type": "line", "strokeDash": [4, 3], "strokeWidth": 1.3, "clip": true, "opacity": 0.85},
              "encoding": {
                "y": {
                  "field": "growth", "type": "quantitative",
                  "scale": {"type": "log", "domain": [0.00918, 1], "nice": false},
                  "axis": {
                    "values": [0.01, 0.02, 0.03, 0.04, 0.05, 0.06, 0.07, 0.08, 0.09, 0.1, 0.2, 0.3, 0.4, 0.5, 0.6, 0.7, 0.8, 0.9, 1],
                    "labelExpr": "datum.value == 1 ? '1' : datum.value == 0.1 ? '10⁻¹' : datum.value == 0.01 ? '10⁻²' : ''",
                    "tickSize": {"condition": {"test": "datum.value == 1 || datum.value == 0.1 || datum.value == 0.01", "value": 5}, "value": 3},
                    "labelOverlap": false, "labelFlush": false, "labelPadding": 6,
                    "title": "Monthly growth (%)", "titleX": -39, "titleY": 47, "titleAlign": "right", "titleBaseline": "bottom", "titleAngle": 270
                  }
                }
              }
            },
            {
              "mark": {"type": "rule", "strokeWidth": 1.5, "clip": true},
              "encoding": {"y": {"field": "lo", "type": "quantitative"}, "y2": {"field": "hi"}}
            },
            {
              "mark": {"type": "tick", "size": 20, "thickness": 1.5, "clip": true, "opacity": 1},
              "encoding": {"y": {"field": "lo", "type": "quantitative"}}
            },
            {
              "mark": {"type": "tick", "size": 20, "thickness": 1.5, "clip": true, "opacity": 1},
              "encoding": {"y": {"field": "hi", "type": "quantitative"}}
            },
            {
              "mark": {"type": "point", "filled": true, "size": 115, "opacity": 1, "clip": true},
              "encoding": {"y": {"field": "growth", "type": "quantitative"}}
            }
          ]
        }
      ]
    }
  ],
  "config": {
    "font": "Liberation Sans",
    "view": {"stroke": null},
    "axis": {
      "labelFont": "Liberation Sans", "titleFont": "Liberation Sans",
      "labelFontSize": 12.5, "titleFontSize": 12.5, "titleFontWeight": "normal",
      "labelColor": "#222222", "titleColor": "#222222",
      "domainColor": "#444444", "tickColor": "#444444",
      "grid": false, "tickSize": 5, "labelPadding": 3
    },
    "legend": {"labelFont": "Liberation Sans", "labelFontSize": 12.5, "labelColor": "#222222"},
    "text": {"font": "Liberation Sans", "fontSize": 12.5, "color": "#222222"}
  }
}
